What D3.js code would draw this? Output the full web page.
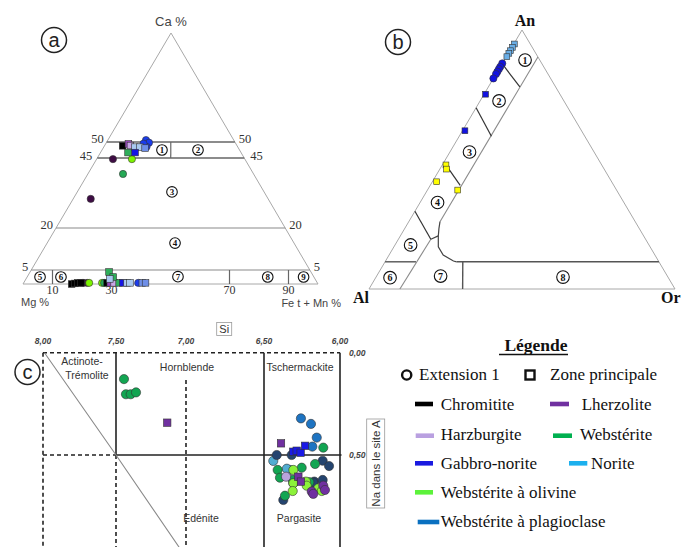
<!DOCTYPE html>
<html>
<head>
<meta charset="utf-8">
<script src="https://cdn.jsdelivr.net/npm/d3@7"></script>
<style>
  body { margin: 0; background: #fff; }
  svg { display: block; }
</style>
</head>
<body>
<script>
// ---------------------------------------------------------------
// Lithologies and legend colours
// ---------------------------------------------------------------
const lithologies = ["Chromitite", "Lherzolite", "Harzburgite", "Webstérite",
  "Gabbro-norite", "Norite", "Webstérite à olivine", "Webstérite à plagioclase"];
const legendColors = ["#000000", "#7030a0", "#b9a0e0", "#00b050",
  "#1a1ae0", "#1cb0ee", "#5cf23a", "#0a70c0"];

// ---------------------------------------------------------------
// (a) Pyroxenes : Ca % and Fe fraction along the Mg – Fe t + Mn join
// site: E = Extension 1 (circle), Z = Zone principale (square)
// ---------------------------------------------------------------
const pyxCa = [48.8, 49.4, 48.9, 48.4, 48.4, 48.1, 46.7, 46.7,
  50.6, 49.8, 48.5, 49.5, 44.6, 44.6, 39.3, 30.4,
  0.0, 0.2, 0.4, 0.4, 0.4, 0.4, 0.4, 0.4, 0.4, 0.4, 0.4, 0.4, 0.4,
  0.4, 0.4, 0.4, 0.4, 0.4, 0.4, 4.3, 2.5, 1.8];
const pyxFe = [13.7, 17.5, 19.5, 23.3, 27.0, 31.0, 19.6, 24.6,
  30.3, 33.1, 31.9, 29.0, 11.0, 23.8, 21.2, 9.0,
  16.5, 17.5, 18.5, 19.5, 20.2, 21.6, 22.3, 26.7, 27.4, 28.4, 29.5, 30.8, 32.5,
  33.8, 35.2, 36.2, 39.0, 40.4, 41.5, 28.1, 30.0, 29.0];
const pyxLith = ["Chromitite", "Lherzolite", "Harzburgite", "Norite", "Norite",
  "Webstérite à plagioclase", "Webstérite", "Gabbro-norite",
  "Gabbro-norite", "Gabbro-norite", "Gabbro-norite", "Gabbro-norite",
  "Lherzolite", "Webstérite à olivine", "Webstérite", "Lherzolite",
  "Chromitite", "Chromitite", "Chromitite", "Chromitite", "Lherzolite", "Lherzolite",
  "Webstérite à olivine", "Webstérite à olivine", "Webstérite", "Chromitite",
  "Lherzolite", "Harzburgite", "Webstérite", "Gabbro-norite", "Norite", "Norite",
  "Gabbro-norite", "Webstérite à plagioclase", "Webstérite à plagioclase",
  "Webstérite", "Webstérite", "Norite"];
const pyxSite = ["Z", "Z", "Z", "Z", "Z", "Z", "Z", "Z",
  "E", "E", "E", "E", "E", "E", "E", "E",
  "Z", "Z", "Z", "Z", "E", "E", "E", "E", "E", "Z", "Z", "Z", "Z",
  "Z", "Z", "Z", "E", "Z", "Z", "Z", "Z", "Z"];
const caTicks = [50, 45, 20, 5];
const feTicks = [10, 30, 70, 90];
const pyxFields = ["1", "2", "3", "4", "5", "6", "7", "8", "9"];

// ---------------------------------------------------------------
// (b) Feldspars : An – Ab (Al) – Or proportions
// ---------------------------------------------------------------
const fspAn = [0.946, 0.933, 0.920, 0.910, 0.897,
  0.871, 0.858, 0.849, 0.839, 0.830, 0.813,
  0.752, 0.611,
  0.479, 0.463, 0.414, 0.382];
const fspOr = [0.002, 0.002, 0.002, 0.002, 0.002,
  0.0, 0.0, 0.0, 0.0, 0.0, 0.0,
  0.005, 0.008,
  0.012, 0.022, 0.014, 0.099];
const fspLith = ["Norite", "Norite", "Norite", "Norite", "Norite",
  "Gabbro-norite", "Gabbro-norite", "Gabbro-norite", "Gabbro-norite", "Gabbro-norite", "Gabbro-norite",
  "Gabbro-norite", "Gabbro-norite",
  "Webstérite à plagioclase", "Webstérite à plagioclase", "Webstérite à plagioclase", "Webstérite à plagioclase"];
const fspSite = ["Z", "Z", "Z", "Z", "Z", "E", "E", "E", "E", "E", "E", "Z", "Z", "Z", "Z", "Z", "Z"];
const fspFields = ["1", "2", "3", "4", "5", "6", "7", "8"];

// ---------------------------------------------------------------
// (c) Amphiboles : Si (apfu) vs Na in the A site
// ---------------------------------------------------------------
const amphSi = [7.443, 7.429, 7.395, 7.357,
  6.257, 6.191, 6.153, 6.182,
  6.439, 6.329, 6.350,
  6.416, 6.318, 6.114, 6.072, 6.169, 6.114, 6.373, 6.307, 6.176,
  6.110, 6.164, 6.252, 6.410, 6.395, 6.311, 6.362, 6.202,
  6.307, 6.307, 6.224, 6.219, 6.311, 6.143, 6.120,
  6.186, 6.110, 6.099, 6.176,
  6.355,
  7.134, 6.388, 6.307, 6.285, 6.259, 6.230, 6.274, 6.257];
const amphNa = [0.129, 0.203, 0.203, 0.194,
  0.321, 0.348, 0.415, 0.459,
  0.529, 0.573, 0.567,
  0.500, 0.500, 0.528, 0.554, 0.630, 0.622, 0.720, 0.638, 0.635,
  0.464, 0.544, 0.562, 0.573, 0.611, 0.622, 0.699, 0.633,
  0.573, 0.638, 0.630, 0.650, 0.676, 0.663, 0.676,
  0.679, 0.650, 0.671, 0.690,
  0.606,
  0.342, 0.443, 0.484, 0.479, 0.489, 0.455, 0.606, 0.630];
const amphLith = ["Webstérite", "Webstérite", "Webstérite", "Webstérite",
  "Webstérite à plagioclase", "Webstérite à plagioclase", "Webstérite à plagioclase", "Webstérite à plagioclase",
  "Norite", "Norite", "Norite",
  "Gabbro-norite", "Gabbro-norite", "Gabbro-norite", "Gabbro-norite", "Gabbro-norite",
  "Gabbro-norite", "Gabbro-norite", "Gabbro-norite", "Gabbro-norite",
  "Webstérite", "Webstérite", "Webstérite", "Webstérite", "Webstérite", "Webstérite", "Webstérite", "Webstérite",
  "Webstérite à olivine", "Webstérite à olivine", "Webstérite à olivine", "Webstérite à olivine",
  "Webstérite à olivine", "Webstérite à olivine", "Webstérite à olivine",
  "Lherzolite", "Lherzolite", "Lherzolite", "Lherzolite",
  "Harzburgite",
  "Lherzolite", "Lherzolite", "Gabbro-norite", "Gabbro-norite", "Gabbro-norite", "Gabbro-norite",
  "Lherzolite", "Lherzolite"];
const amphSite = ["E", "E", "E", "E", "E", "E", "E", "E", "E", "E", "E",
  "E", "E", "E", "E", "E", "E", "E", "E", "E",
  "E", "E", "E", "E", "E", "E", "E", "E",
  "E", "E", "E", "E", "E", "E", "E",
  "E", "E", "E", "E", "E",
  "Z", "Z", "Z", "Z", "Z", "Z", "Z", "Z"];
const siTicks = [8, 7.5, 7, 6.5, 6];
const siTickLabels = ["8,00", "7,50", "7,00", "6,50", "6,00"];
const naTicks = [0, 0.5];
const naTickLabels = ["0,00", "0,50"];
const amphFields = ["Actinote-", "Trémolite", "Hornblende", "Tschermackite", "Edénite", "Pargasite"];

// ---------------------------------------------------------------
// Symbol fills per diagram (shade depends on lithology and site)
// ---------------------------------------------------------------
const fillA = {
  "Chromitite|Z": "#000000", "Lherzolite|Z": "#9a48bd", "Harzburgite|Z": "#c8a6e6",
  "Norite|Z": "#a9c9f0", "Webstérite à plagioclase|Z": "#6f8fe8", "Webstérite|Z": "#2fae5a",
  "Gabbro-norite|Z": "#1414e6", "Gabbro-norite|E": "#1a3cee", "Lherzolite|E": "#3e0c44",
  "Webstérite à olivine|E": "#7cf400", "Webstérite|E": "#25a955"
};
const fillB = {
  "Norite|Z": "#6aaee6", "Gabbro-norite|E": "#1212e0", "Gabbro-norite|Z": "#1212e0",
  "Webstérite à plagioclase|Z": "#ffff00"
};
const fillC = {
  "Webstérite|E": "#12a552", "Webstérite à plagioclase|E": "#1e74c2", "Norite|E": "#52acd2",
  "Gabbro-norite|E": "#24446f", "Webstérite à olivine|E": "#8cf23a", "Lherzolite|E": "#7030a0",
  "Harzburgite|E": "#b9a3dc", "Lherzolite|Z": "#7030a0", "Gabbro-norite|Z": "#1a1ae6"
};

const W = 682, H = 547;
const svg = d3.select("body").append("svg")
  .attr("width", W).attr("height", H)
  .attr("viewBox", `0 0 ${W} ${H}`);

const SERIF = "'Liberation Serif', 'Times New Roman', serif";
const SANS = "'Liberation Sans', Arial, sans-serif";

// circled letter identifying each diagram
function panelTag(x, y, letter) {
  const g = svg.append("g");
  g.append("circle").attr("cx", x).attr("cy", y).attr("r", 12.5)
    .attr("fill", "none").attr("stroke", "#222").attr("stroke-width", 1.5);
  g.append("text").attr("x", x).attr("y", y + 6.5).attr("text-anchor", "middle")
    .attr("font-family", SANS).attr("font-size", 20).attr("fill", "#222").text(letter);
}

// circled field number
function fieldTag(g, x, y, label, r, fs) {
  g.append("circle").attr("cx", x).attr("cy", y).attr("r", r)
    .attr("fill", "#fff").attr("stroke", "#111").attr("stroke-width", 1.1);
  g.append("text").attr("x", x).attr("y", y + fs * 0.36).attr("text-anchor", "middle")
    .attr("font-family", SERIF).attr("font-weight", "bold").attr("font-size", fs)
    .attr("fill", "#111").text(label);
}

// circle for Extension 1, square for Zone principale
function drawSymbols(g, data, fills, r, side) {
  g.selectAll("circle.pt").data(data.filter(d => d.site === "E")).join("circle")
    .attr("class", "pt")
    .attr("cx", d => d.x).attr("cy", d => d.y).attr("r", r)
    .attr("fill", d => fills[d.lith + "|" + d.site])
    .attr("stroke", "#333").attr("stroke-width", 0.6);
  g.selectAll("rect.pt").data(data.filter(d => d.site === "Z")).join("rect")
    .attr("class", "pt")
    .attr("x", d => d.x - side / 2).attr("y", d => d.y - side / 2)
    .attr("width", side).attr("height", side)
    .attr("fill", d => fills[d.lith + "|" + d.site])
    .attr("stroke", "#333").attr("stroke-width", 0.6);
}

// ===============================================================
// (a) Pyroxene classification triangle
// ===============================================================
{
  const g = svg.append("g");
  const apex = [171, 33], left = [23, 284], right = [318, 284];
  const caY = d3.scaleLinear().domain([0, 5, 20, 45, 50]).range([284, 270, 228, 158, 142]);
  const baseX = d3.scaleLinear().domain([0, 100]).range([left[0], right[0]]);
  const edges = y => {
    const t = (left[1] - y) / (left[1] - apex[1]);
    return [left[0] + t * (apex[0] - left[0]), right[0] - t * (right[0] - apex[0])];
  };
  const pos = (ca, fe) => {
    const y = caY(ca);
    const [l, r] = edges(y);
    return [l + fe / 100 * (r - l), y];
  };

  // outline
  g.append("path")
    .attr("d", d3.line()([left, apex, right, left]))
    .attr("fill", "none").attr("stroke", "#a8a8a8").attr("stroke-width", 1);

  // Ca iso-lines
  caTicks.forEach(c => {
    const y = caY(c);
    const [l, r] = edges(y);
    g.append("line").attr("x1", l).attr("x2", r).attr("y1", y).attr("y2", y)
      .attr("stroke", c >= 45 ? "#666" : "#8a8a8a").attr("stroke-width", c >= 45 ? 1.3 : 1.2);
    const off = c === 45 ? 5 : 3;
    g.append("text").attr("x", l - off).attr("y", y + (c === 45 ? 2 : 0.5))
      .attr("text-anchor", "end").attr("font-family", SERIF).attr("font-size", 12.5)
      .attr("fill", "#333").text(c);
    g.append("text").attr("x", r + (c === 45 ? 6 : 4)).attr("y", y + (c === 45 ? 2 : 0.5))
      .attr("text-anchor", "start").attr("font-family", SERIF).attr("font-size", 12.5)
      .attr("fill", "#333").text(c);
  });

  // divider between fields 1 and 2
  const [p1, p2] = [pos(50, 50), pos(45, 50)];
  g.append("line").attr("x1", p1[0]).attr("x2", p2[0]).attr("y1", p1[1]).attr("y2", p2[1])
    .attr("stroke", "#666").attr("stroke-width", 1.2);

  // dividers in the low-Ca band (vertical at Fe 10, 70, 90)
  feTicks.filter(f => f !== 30).forEach(f => {
    g.append("line").attr("x1", baseX(f)).attr("x2", baseX(f))
      .attr("y1", caY(0)).attr("y2", caY(5))
      .attr("stroke", "#666").attr("stroke-width", 1.2);
  });

  // base tick labels
  feTicks.forEach(f => {
    g.append("text").attr("x", baseX(f)).attr("y", 294).attr("text-anchor", "middle")
      .attr("font-family", SERIF).attr("font-size", 12).attr("fill", "#333").text(f);
  });

  // apex and corner names
  g.append("text").attr("x", apex[0]).attr("y", 26).attr("text-anchor", "middle")
    .attr("font-family", SANS).attr("font-size", 13).attr("fill", "#444").text("Ca %");
  g.append("text").attr("x", 21).attr("y", 305.5).attr("text-anchor", "start")
    .attr("font-family", SANS).attr("font-size", 11).attr("fill", "#444").text("Mg %");
  g.append("text").attr("x", 341).attr("y", 306.5).attr("text-anchor", "end")
    .attr("font-family", SANS).attr("font-size", 11).attr("fill", "#444").text("Fe t + Mn %");

  // field numbers (Ca %, Fe %)
  const fieldPos = [[47.5, 43.6], [47.5, 69.8], [32.9, 50.7], [14.6, 51.8],
    [2.5, 4.5], [2.5, 11.8], [2.6, 52.6], [2.5, 83.9], [2.5, 96.4]];
  pyxFields.forEach((f, i) => {
    const p = pos(fieldPos[i][0], fieldPos[i][1]);
    fieldTag(g, p[0], p[1], f, 5.3, 9);
  });

  const data = pyxCa.map((c, i) => {
    const p = pos(c, pyxFe[i]);
    return { x: p[0], y: p[1], lith: pyxLith[i], site: pyxSite[i] };
  });
  drawSymbols(g, data, fillA, 3.6, 6.6);
  panelTag(54, 40, "a");
}

// ===============================================================
// (b) Feldspar triangle An – Al – Or
// ===============================================================
{
  const g = svg.append("g");
  const vAn = [522, 30], vAl = [369, 289], vOr = [675, 289];
  const pos = (an, or) => {
    const ab = 1 - an - or;
    return [an * vAn[0] + ab * vAl[0] + or * vOr[0], an * vAn[1] + ab * vAl[1] + or * vOr[1]];
  };
  const line = d3.line();
  const path = (pts, stroke, w) => g.append("path")
    .attr("d", line(pts.map(p => pos(p[0], p[1]))))
    .attr("fill", "none").attr("stroke", stroke).attr("stroke-width", w);

  path([[1, 0], [0, 0], [0, 1], [1, 0]], "#a8a8a8", 1);
  // Or = 10 % boundary and the curved limit of the ternary feldspars
  path([[0.896, 0.104], [0.26, 0.102]], "#8a8a8a", 1.1);
  path([[0.26, 0.102], [0.233, 0.112], [0.205, 0.124], [0.163, 0.145], [0.131, 0.177],
    [0.108, 0.222], [0.105, 0.234]], "#444", 1.2);
  path([[0.105, 0.234], [0.105, 0.895]], "#555", 1.4);
  path([[0.192, 0.106], [0.0, 0.101]], "#8a8a8a", 1.1);
  path([[0.192, 0.106], [0.205, 0.124]], "#444", 1.2);
  // An boundaries across the plagioclase strip
  [[[0.87, 0.0], [0.78, 0.103]], [[0.70, 0.0], [0.59, 0.105]],
   [[0.49, 0.0], [0.40, 0.098]], [[0.30, 0.0], [0.192, 0.106]]]
    .forEach(seg => path(seg, "#333", 1.2));
  path([[0.105, 0.0], [0.105, 0.101]], "#555", 1.4);
  path([[0.105, 0.254], [0.0, 0.306]], "#555", 1.4);

  // field numbers (An, Or)
  const fieldPos = [[0.884, 0.068], [0.726, 0.062], [0.529, 0.064], [0.334, 0.057],
    [0.170, 0.051], [0.0436, 0.047], [0.050, 0.209], [0.046, 0.611]];
  fspFields.forEach((f, i) => {
    const p = pos(fieldPos[i][0], fieldPos[i][1]);
    fieldTag(g, p[0], p[1], f, 6.3, 10);
  });

  g.append("text").attr("x", 525).attr("y", 26).attr("text-anchor", "middle")
    .attr("font-family", SERIF).attr("font-weight", "bold").attr("font-size", 16)
    .attr("fill", "#111").text("An");
  g.append("text").attr("x", 353).attr("y", 303).attr("text-anchor", "start")
    .attr("font-family", SERIF).attr("font-weight", "bold").attr("font-size", 16)
    .attr("fill", "#111").text("Al");
  g.append("text").attr("x", 661).attr("y", 303).attr("text-anchor", "start")
    .attr("font-family", SERIF).attr("font-weight", "bold").attr("font-size", 16)
    .attr("fill", "#111").text("Or");

  const data = fspAn.map((a, i) => {
    const p = pos(a, fspOr[i]);
    return { x: p[0], y: p[1], lith: fspLith[i], site: fspSite[i] };
  });
  drawSymbols(g, data, fillB, 3.6, 5.8);
  panelTag(398, 42, "b");
}

// ===============================================================
// (c) Amphibole diagram Si vs Na(A)
// ===============================================================
{
  const g = svg.append("g");
  const x = d3.scaleLinear().domain([8, 7.5, 7, 6.5, 6]).range([43, 116, 186, 264, 340]);
  const y = d3.scaleLinear().domain([0, 0.5]).range([352.7, 455]);
  const naBottom = 0.96;
  const seg = (pts, opts) => g.append("path")
    .attr("d", d3.line()(pts.map(p => [x(p[0]), y(p[1])])))
    .attr("fill", "none").attr("stroke", opts.c || "#222")
    .attr("stroke-width", opts.w || 1.6)
    .attr("stroke-dasharray", opts.dash ? "4,3" : null);

  // frame and field boundaries
  seg([[8, 0], [6, 0]], { dash: true });
  seg([[8, 0.5], [7.5, 0.5]], { dash: true });
  seg([[7.5, 0.5], [5.99, 0.5]], {});
  seg([[8, 0], [8, naBottom]], { dash: true });
  seg([[7.5, 0], [7.5, 0.5]], {});
  seg([[7.5, 0.5], [7.5, naBottom]], { dash: true });
  seg([[7, 0.133], [7, naBottom]], { dash: true });
  seg([[6.5, 0], [6.5, naBottom]], {});
  seg([[6, 0], [6, naBottom]], {});
  seg([[7.99, 0], [7.5, 0.5], [7.03, 0.97]], { c: "#8a8a8a", w: 1.1 });

  // Si axis (top)
  siTicks.forEach((s, i) => {
    g.append("text").attr("x", x(s)).attr("y", 344).attr("text-anchor", "middle")
      .attr("font-family", SANS).attr("font-size", 8.5).attr("font-weight", "bold")
      .attr("font-style", "italic").attr("fill", "#444").text(siTickLabels[i]);
  });
  g.append("rect").attr("x", 216.7).attr("y", 322.5).attr("width", 15).attr("height", 13)
    .attr("fill", "#fff").attr("stroke", "#999").attr("stroke-width", 0.8);
  g.append("text").attr("x", 224.2).attr("y", 333).attr("text-anchor", "middle")
    .attr("font-family", SANS).attr("font-size", 11).attr("fill", "#333").text("Si");

  // Na axis (right)
  naTicks.forEach((n, i) => {
    g.append("text").attr("x", 349).attr("y", y(n) + 3).attr("text-anchor", "start")
      .attr("font-family", SANS).attr("font-size", 8.5).attr("font-weight", "bold")
      .attr("font-style", "italic").attr("fill", "#444").text(naTickLabels[i]);
  });
  g.append("rect").attr("x", 366.7).attr("y", 419).attr("width", 18).attr("height", 89)
    .attr("fill", "#fff").attr("stroke", "#999").attr("stroke-width", 0.8);
  g.append("text").attr("transform", "translate(380,463.5) rotate(-90)")
    .attr("text-anchor", "middle").attr("font-family", SANS).attr("font-size", 11.5)
    .attr("fill", "#333").text("Na dans le site A");

  // field names
  const fieldXY = [[82, 365], [87, 379], [187, 371], [300, 371], [201, 522], [299, 522]];
  amphFields.forEach((f, i) => {
    g.append("text").attr("x", fieldXY[i][0]).attr("y", fieldXY[i][1]).attr("text-anchor", "middle")
      .attr("font-family", SANS).attr("font-size", 10.5).attr("fill", "#333").text(f);
  });

  const data = amphSi.map((s, i) => ({ x: x(s), y: y(amphNa[i]), lith: amphLith[i], site: amphSite[i] }));
  drawSymbols(g, data, fillC, 4.6, 7.4);
  panelTag(27.5, 372, "c");
}

// ===============================================================
// Legend
// ===============================================================
{
  const g = svg.append("g").attr("font-family", SERIF).attr("fill", "#111");
  g.append("text").attr("x", 536).attr("y", 351).attr("text-anchor", "middle")
    .attr("font-size", 17.5).attr("font-weight", "bold").text("Légende");
  g.append("line").attr("x1", 499).attr("x2", 568).attr("y1", 354.5).attr("y2", 354.5)
    .attr("stroke", "#111").attr("stroke-width", 1.3);

  g.append("circle").attr("cx", 406.7).attr("cy", 375).attr("r", 4.6)
    .attr("fill", "none").attr("stroke", "#111").attr("stroke-width", 2.4);
  g.append("text").attr("x", 419).attr("y", 380).attr("font-size", 17).text("Extension 1");
  g.append("rect").attr("x", 525.5).attr("y", 370.5).attr("width", 9).attr("height", 9)
    .attr("fill", "none").attr("stroke", "#111").attr("stroke-width", 2.4);
  g.append("text").attr("x", 550).attr("y", 380).attr("font-size", 17).text("Zone principale");

  // swatch positions: [bar x0, bar x1, bar centre y, text x, text baseline]
  const legendLayout = [
    [415, 433, 404, 440.7, 410], [550, 569, 404, 581.7, 410],
    [415.7, 434, 435.7, 440.7, 439.5], [553, 572, 435.7, 580, 439.5],
    [415, 433, 463.3, 440.7, 469], [569, 587.3, 463.3, 591, 469],
    [415, 433, 492.3, 440.7, 497.5], [417.7, 439.3, 522, 440.7, 526.5]
  ];
  lithologies.forEach((name, i) => {
    const L = legendLayout[i];
    g.append("rect").attr("x", L[0]).attr("y", L[2] - 2.3).attr("width", L[1] - L[0]).attr("height", 4.6)
      .attr("fill", legendColors[i]);
    g.append("text").attr("x", L[3]).attr("y", L[4]).attr("font-size", 17).text(name);
  });
}
</script>
</body>
</html>
